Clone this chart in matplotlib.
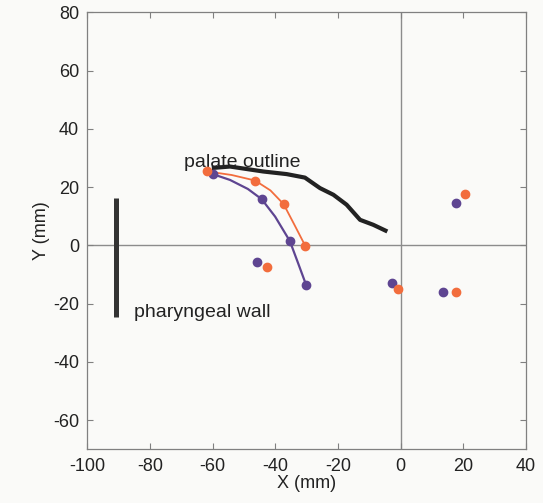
import matplotlib
matplotlib.use("Agg")
import matplotlib.pyplot as plt

plt.rcParams['font.family'] = ['Liberation Sans', 'DejaVu Sans']
plt.rcParams['axes.unicode_minus'] = False

# marker points on the two trajectories
purple_x = [-60.0, -44.4, -35.4, -30.2]
purple_y = [24.5, 15.9, 1.5, -13.6]
orange_x = [-61.7, -46.5, -37.4, -30.5]
orange_y = [25.4, 22.3, 14.2, -0.1]

# the smooth lines through them
purple_line_x = [-60.0, -54.5, -48.8, -44.4, -40.1, -35.4, -32.8, -30.2]
purple_line_y = [24.5, 22.5, 19.4, 15.9, 9.9, 1.5, -6.0, -13.6]
orange_line_x = [-61.7, -54.0, -46.5, -41.6, -37.4, -34.0, -30.5]
orange_line_y = [25.4, 24.2, 22.3, 18.9, 14.2, 7.2, -0.1]

# loose points
purple_pts_x = [-45.9, -2.9, 13.5, 17.6]
purple_pts_y = [-5.7, -12.8, -15.9, 14.5]
orange_pts_x = [-42.8, -1.0, 17.6, 20.6]
orange_pts_y = [-7.5, -14.9, -16.0, 17.6]

# palate outline
palate_x = [-60.3, -54.5, -43.9, -36.4, -30.6, -25.8, -21.5, -17.3, -13.0, -8.8, -4.3]
palate_y = [26.6, 27.1, 25.4, 24.5, 23.3, 19.7, 17.4, 14.0, 8.8, 7.1, 4.8]

# pharyngeal wall
wall_x = [-91.0, -91.0]
wall_y = [16.3, -24.4]

purple = '#5e4591'
orange = '#f26d3d'
bg = '#fafaf8'

fig = plt.figure(figsize=(5.43, 5.03), dpi=100, facecolor=bg)
ax = fig.add_axes([0.161, 0.1067, 0.808, 0.8685], facecolor=bg)

ax.axhline(0, color='#8c8c8c', lw=1, zorder=1)
ax.axvline(0, color='#8c8c8c', lw=1, zorder=1)

ax.plot(palate_x, palate_y, color='#222222', lw=3.0, solid_capstyle='butt', zorder=3)
ax.plot(wall_x, wall_y, color='#333333', lw=3.6, solid_capstyle='butt', zorder=3)

ax.plot(purple_line_x, purple_line_y, color=purple, lw=1.6, zorder=4)
ax.plot(orange_line_x, orange_line_y, color=orange, lw=1.3, zorder=4)
ax.plot(purple_x, purple_y, 'o', color=purple, ms=6, zorder=5)
ax.plot(orange_x, orange_y, 'o', color=orange, ms=6, zorder=6)
ax.plot(purple_pts_x, purple_pts_y, 'o', color=purple, ms=6, zorder=5)
ax.plot(orange_pts_x, orange_pts_y, 'o', color=orange, ms=6, zorder=6)

ax.text(-69.2, 27.0, 'palate outline', fontsize=14, color='#222222', va='baseline', zorder=2)
ax.text(-85.0, -24.6, 'pharyngeal wall', fontsize=14, color='#222222', va='baseline')

ax.set_xlim(-100, 40)
ax.set_ylim(-70, 80)
ax.set_xticks(range(-100, 41, 20))
ax.set_yticks(range(-60, 81, 20))
ax.set_xlabel('X (mm)', fontsize=13, color='#222222', labelpad=0)
ax.set_ylabel('Y (mm)', fontsize=13, color='#222222', labelpad=2)

for s in ax.spines.values():
    s.set_color('#808080')
    s.set_linewidth(0.9)
ax.tick_params(direction='in', length=4, width=0.8, color='#808080',
               labelsize=13, labelcolor='#222222',
               top=True, right=True, pad=6)

fig.savefig('out.png', dpi=100, facecolor=bg)
